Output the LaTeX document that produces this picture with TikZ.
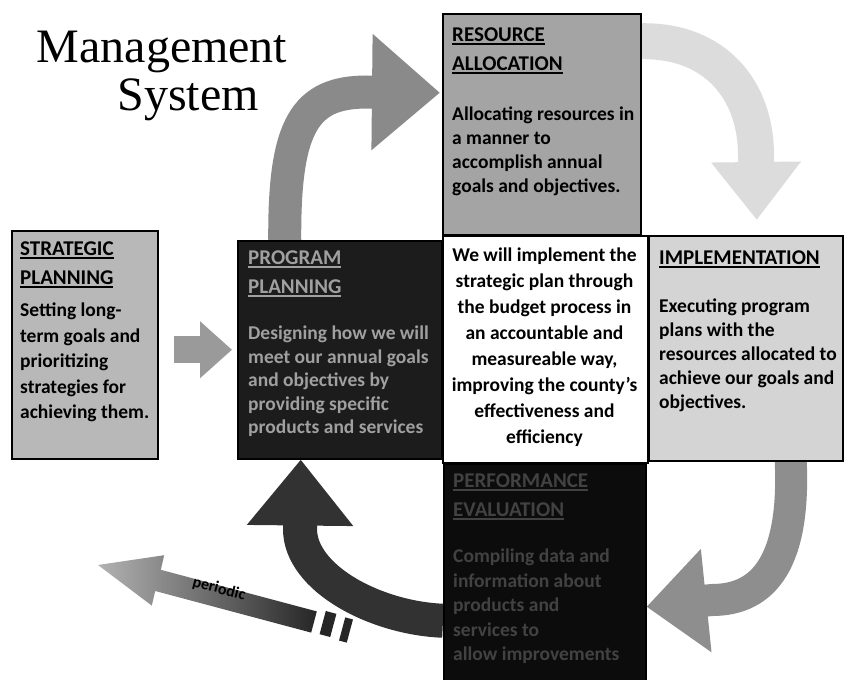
\documentclass[tikz,border=0pt]{standalone}
\usepackage{fontspec}
\setmainfont{Carlito}
\newfontfamily\titlefont{Liberation Serif}
\usetikzlibrary{arrows.meta}
\pgfdeclarelayer{bg}
\pgfsetlayers{bg,main}
\definecolor{raGray}{HTML}{A4A4A4}
\definecolor{stGray}{HTML}{B8B8B8}
\definecolor{imGray}{HTML}{D4D4D4}
\definecolor{pgDark}{HTML}{1C1C1C}
\definecolor{pgText}{HTML}{A0A0A0}
\definecolor{peDark}{HTML}{0C0C0C}
\definecolor{peText}{HTML}{424242}
\definecolor{arA}{HTML}{8A8A8A}
\definecolor{arB}{HTML}{DCDCDC}
\definecolor{arC}{HTML}{8E8E8E}
\definecolor{arD}{HTML}{323232}
\definecolor{arE}{HTML}{9A9A9A}
\newcommand\hul[1]{\vtop{\hbox{#1}\kern1.2pt\hrule height 1.8pt}}
\begin{document}
\begin{tikzpicture}[x=1pt,y=-1pt,
  box/.style={draw=black, line width=1.5pt, inner sep=0pt, anchor=north west},
  headtxt/.style={anchor=north west, align=left, inner sep=0pt, font=\fontsize{21}{28.5}\selectfont\bfseries},
  bodytxt/.style={anchor=north west, align=left, inner sep=0pt, font=\fontsize{19.5}{24}\selectfont\bfseries},
  curvearrow/.style={line width=32pt},
]
\useasboundingbox (0,0) rectangle (844,680);
\begin{pgfonlayer}{bg}
\fill[white] (0,0) rectangle (844,680);
\end{pgfonlayer}

% title
\node[font=\titlefont\fontsize{48}{52}\selectfont, anchor=base, inner sep=0pt] (title1) at (162,62) {Management};
\node[font=\titlefont\fontsize{48}{52}\selectfont, anchor=base, inner sep=0pt] (title2) at (188,110) {System};

% boxes
\node[box, fill=raGray, minimum width=198pt, minimum height=221pt] (ra) at (442,13) {};
\node[box, fill=stGray, minimum width=146pt, minimum height=228pt] (st) at (11,230) {};
\node[box, fill=pgDark, minimum width=204pt, minimum height=218pt] (prog) at (237,240) {};
\node[box, fill=white, minimum width=205pt, minimum height=227pt] (ctr) at (442,235) {};
\node[box, fill=imGray, minimum width=194pt, minimum height=225pt] (im) at (648,235) {};
\node[box, fill=peDark, minimum width=202pt, minimum height=230pt] (pe) at (443,463) {};

% texts
\node[headtxt] (raH) at (452,28) {\hul{RESOURCE}\\\hul{ALLOCATION}};
\node[bodytxt] (raB) at (452,107) {Allocating resources in\\a manner to\\accomplish annual\\goals and objectives.};

\node[headtxt] (stH) at (20,242) {\hul{STRATEGIC}\\\hul{PLANNING}};
\node[bodytxt, font=\fontsize{19.5}{25.5}\selectfont\bfseries] (stB) at (20,303) {Setting long-\\term goals and\\prioritizing\\strategies for\\achieving them.};

\node[headtxt, text=pgText] (pgH) at (248,251) {\hul{PROGRAM}\\\hul{PLANNING}};
\node[bodytxt, text=pgText, font=\fontsize{19.5}{23.5}\selectfont\bfseries] (pgB) at (248,326) {Designing how we will\\meet our annual goals\\and objectives by\\providing specific\\products and services};

\node[anchor=north, align=center, inner sep=0pt, font=\fontsize{19.5}{26}\selectfont\bfseries] (ctrT) at (544.5,248) {We will implement the\\strategic plan through\\the budget process in\\an accountable and\\measureable way,\\improving the county's\\effectiveness and\\efficiency};

\node[headtxt] (imH) at (659,251) {\hul{IMPLEMENTATION}};
\node[bodytxt] (imB) at (659,299) {Executing program\\plans with the\\resources allocated to\\achieve our goals and\\objectives.};

\node[headtxt, text=peText] (peH) at (453,474) {\hul{PERFORMANCE}\\\hul{EVALUATION}};
\node[bodytxt, text=peText, font=\fontsize{19.5}{24.5}\selectfont\bfseries] (peB) at (453,549) {Compiling data and\\information about\\products and\\services to\\allow improvements};

% periodic arrow (shape with shading) and its dashes
\node[fill=black!85, minimum width=11pt, minimum height=24pt, inner sep=0pt, rotate=-15] (dashA) at (328,624) {};
\node[fill=black!85, minimum width=8pt, minimum height=24pt, inner sep=0pt, rotate=-15] (dashB) at (346,630) {};
\shade[left color=black!30, right color=black!85]
  (316.8,611.4) -- (160.8,569.8) -- (164.2,555.2) -- (98,565) -- (151.8,605.6) -- (155.2,591.0) -- (311.2,632.6) -- cycle;
\node[rotate=-15, text=black, inner sep=0pt, font=\fontsize{16}{16}\selectfont\bfseries] (perT) at (219,589) {periodic};

% bends of the curved arrows (just before each arrow head)
\coordinate (bendA) at (367,92);
\coordinate (bendB) at (756,155);
\coordinate (bendC) at (712,600);
\coordinate (bendD) at (300,529);

\begin{pgfonlayer}{bg}
% A: program -> resource allocation
\draw[curvearrow, arA, line width=33pt, -{Triangle[length=68pt 0, width=112pt 0]}] ([xshift=-55pt]prog.north) .. controls (284,125) and (305,92) .. (bendA) -- ([xshift=-2pt,yshift=31.5pt]ra.west);
% B: resource allocation -> implementation
\draw[curvearrow, arB, line width=36pt, -{Triangle[length=58pt 0, width=86pt 0]}] ([yshift=83pt]ra.east) .. controls (715,40) and (756,90) .. (bendB) -- ([xshift=11pt,yshift=15pt]im.north);
% C: implementation -> performance
\draw[curvearrow, arC, -{Triangle[length=60pt 0, width=100pt 0]}] ([xshift=45pt]im.south) .. controls (795,560) and (765,600) .. (bendC) -- ([yshift=-28pt]pe.east);
% D: performance -> program
\draw[curvearrow, arD, line width=34pt, -{Triangle[length=66pt 0, width=102pt 0]}] ([yshift=-42pt]pe.west) .. controls (375,618) and (300,578) .. (bendD) -- ([xshift=-39pt]prog.south);
% E: strategic -> program
\draw[line width=27pt, arE, -{Triangle[length=32pt 0, width=55pt 0]}, shorten <=15pt, shorten >=5pt] ([yshift=-5pt]st.east) -- (prog.west);
\end{pgfonlayer}
\end{tikzpicture}
\end{document}
